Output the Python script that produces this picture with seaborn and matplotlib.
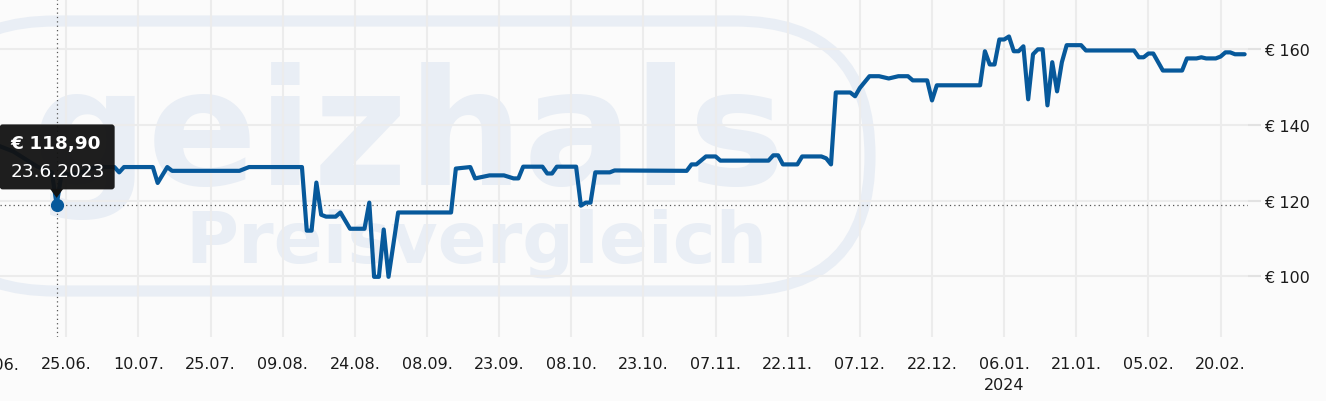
import matplotlib
matplotlib.use("Agg")
import matplotlib.pyplot as plt
import matplotlib.dates as mdates
import matplotlib.transforms as mtransforms
from matplotlib.patches import FancyBboxPatch, Polygon
import seaborn as sns
import pandas as pd

# Preisverlauf
datum = [
    "10.06.2023", "14.06.2023", "19.06.2023", "21.06.2023", "22.06.2023", "23.06.2023", "24.06.2023", "27.06.2023", "01.07.2023",
    "05.07.2023", "06.07.2023", "07.07.2023", "13.07.2023", "14.07.2023", "16.07.2023", "17.07.2023", "31.07.2023", "02.08.2023",
    "13.08.2023", "14.08.2023", "15.08.2023", "16.08.2023", "17.08.2023", "18.08.2023", "20.08.2023", "21.08.2023", "23.08.2023",
    "26.08.2023", "27.08.2023", "28.08.2023", "29.08.2023", "30.08.2023", "31.08.2023", "02.09.2023", "13.09.2023", "14.09.2023",
    "17.09.2023", "18.09.2023", "21.09.2023", "24.09.2023", "26.09.2023", "27.09.2023", "28.09.2023", "02.10.2023", "03.10.2023",
    "04.10.2023", "05.10.2023", "09.10.2023", "10.10.2023", "11.10.2023", "12.10.2023", "13.10.2023", "16.10.2023", "17.10.2023",
    "01.11.2023", "02.11.2023", "03.11.2023", "05.11.2023", "07.11.2023", "08.11.2023", "18.11.2023", "19.11.2023", "20.11.2023",
    "21.11.2023", "24.11.2023", "25.11.2023", "29.11.2023", "30.11.2023", "01.12.2023", "02.12.2023", "05.12.2023", "06.12.2023",
    "07.12.2023", "09.12.2023", "11.12.2023", "13.12.2023", "15.12.2023", "17.12.2023", "18.12.2023", "21.12.2023", "22.12.2023",
    "23.12.2023", "01.01.2024", "02.01.2024", "03.01.2024", "04.01.2024", "05.01.2024", "06.01.2024", "07.01.2024", "08.01.2024",
    "09.01.2024", "10.01.2024", "11.01.2024", "12.01.2024", "13.01.2024", "14.01.2024", "15.01.2024", "16.01.2024", "17.01.2024",
    "18.01.2024", "19.01.2024", "22.01.2024", "23.01.2024", "02.02.2024", "03.02.2024", "04.02.2024", "05.02.2024", "06.02.2024",
    "08.02.2024", "12.02.2024", "13.02.2024", "15.02.2024", "16.02.2024", "17.02.2024", "19.02.2024", "20.02.2024", "21.02.2024",
    "22.02.2024", "23.02.2024", "25.02.2024",
]
preis = [
    135.0, 133.0, 129.0, 128.0, 127.5, 118.9, 127.0, 127.0, 128.9,
    128.9, 127.5, 128.9, 128.9, 124.7, 128.9, 127.9, 127.9, 128.9,
    128.9, 112.1, 112.1, 124.8, 116.3, 115.8, 115.8, 116.9, 112.6,
    112.6, 119.5, 99.9, 99.9, 112.4, 99.9, 116.9, 116.9, 128.5,
    128.9, 125.9, 126.7, 126.7, 125.9, 125.9, 129.0, 129.0, 127.2,
    127.2, 129.0, 129.0, 118.7, 119.5, 119.5, 127.5, 127.5, 128.0,
    127.9, 129.6, 129.6, 131.7, 131.7, 130.6, 130.6, 132.0, 132.0,
    129.6, 129.6, 131.7, 131.7, 131.2, 129.6, 148.6, 148.6, 147.6,
    149.8, 152.9, 152.9, 152.3, 152.9, 152.9, 151.8, 151.8, 146.5,
    150.5, 150.5, 159.5, 156.0, 156.0, 162.6, 162.6, 163.4, 159.5,
    159.5, 160.8, 146.8, 158.7, 160.0, 160.0, 145.2, 156.6, 148.9,
    156.6, 161.1, 161.1, 159.7, 159.7, 157.9, 157.9, 158.9, 158.9,
    154.4, 154.4, 157.6, 157.6, 157.9, 157.6, 157.6, 158.1, 159.2,
    159.2, 158.7, 158.7,
]

tick_daten = ["25.06.2023", "10.07.2023", "25.07.2023", "09.08.2023", "24.08.2023", "08.09.2023",
              "23.09.2023", "08.10.2023", "23.10.2023", "07.11.2023", "22.11.2023", "07.12.2023",
              "22.12.2023", "06.01.2024", "21.01.2024", "05.02.2024", "20.02.2024"]
rand_tick = "10.06.2023"
y_ticks = [100, 120, 140, 160]

tip_datum = "23.06.2023"
tip_preis = 118.90

LINIE = "#07599b"
GRID = "#ececec"
TICK = "#e2e2e2"
WASSER = "#e9eef5"
BG = "#fbfbfb"
TEXT = "#1a1a1a"

W, H = 1326, 402

df = pd.DataFrame({"datum": pd.to_datetime(datum, format="%d.%m.%Y"), "preis": preis})

sns.set_style("white")
plt.rcParams["font.family"] = ["DejaVu Sans"]

fig = plt.figure(figsize=(W / 100, H / 100), dpi=100, facecolor=BG)
ax = fig.add_axes([0, (H - 338) / H, 1248 / W, 338 / H])
ax.set_facecolor("none")

# Wasserzeichen
def fx(x):
    return x / W

def fy(y):
    return 1 - y / H

fig.text(fx(32), fy(185), "geizhals", fontsize=117, weight="bold", color=WASSER,
         ha="left", va="baseline", zorder=-2)
fig.text(fx(185), fy(262), "Preisvergleich", fontsize=52, weight="bold", color=WASSER,
         ha="left", va="baseline", zorder=-2)
ring = FancyBboxPatch((-80, H - 292), 950, 270, boxstyle="round,pad=0,rounding_size=135",
                      fill=False, edgecolor=WASSER, linewidth=8, transform=mtransforms.IdentityTransform(),
                      zorder=-2)
fig.add_artist(ring)

sns.lineplot(data=df, x="datum", y="preis", ax=ax, color=LINIE, linewidth=3.0,
             solid_joinstyle="round", zorder=4)

start = pd.Timestamp("2023-06-25")
ax.set_xlim(start - pd.Timedelta(days=13.78), start + pd.Timedelta(days=245.7))
ax.set_ylim(84.0, 173.3)

ticks = pd.to_datetime(tick_daten, format="%d.%m.%Y")
labels = []
for t in ticks:
    lab = t.strftime("%d.%m.")
    if t.month == 1 and t.day <= 15 and t.year == 2024:
        lab += "\n2024"
    labels.append(lab)
ax.set_xticks(ticks)
ax.set_xticklabels(labels, linespacing=1.45)
ax.set_yticks(y_ticks)
ax.set_yticklabels([f"€ {v}" for v in y_ticks])
ax.yaxis.tick_right()

ax.grid(True, color=GRID, linewidth=1.5)
ax.set_axisbelow(True)
ax.tick_params(axis="x", length=9, width=1.5, color=TICK, pad=5, labelsize=11.5, labelcolor=TEXT)
ax.tick_params(axis="y", length=9, width=1.5, color=TICK, pad=2.5, labelsize=11.5, labelcolor=TEXT)
for s in ax.spines.values():
    s.set_visible(False)
ax.set_xlabel("")
ax.set_ylabel("")

# angeschnittenes Label links
rt = pd.to_datetime(rand_tick, format="%d.%m.%Y")
ax.annotate(rt.strftime("%d.%m."), xy=(rt, 0), xycoords=("data", "axes fraction"),
            xytext=(0, -20), textcoords="offset pixels", ha="center", va="top",
            fontsize=11.5, color=TEXT, annotation_clip=False)

# Hover-Markierung
td = pd.to_datetime(tip_datum, format="%d.%m.%Y")
ax.axvline(td, color="#555555", linewidth=0.9, linestyle=(0, (1, 2.5)), zorder=3)
ax.axhline(tip_preis, color="#555555", linewidth=0.9, linestyle=(0, (1, 2.5)), zorder=3)
ax.plot([td], [tip_preis], "o", color=LINIE, markersize=8.5, zorder=6)

px, py = ax.transData.transform((mdates.date2num(td), tip_preis))
ident = mtransforms.IdentityTransform()
box = FancyBboxPatch((px - 57, py + 15.5), 115, 65, boxstyle="round,pad=0,rounding_size=3",
                     facecolor="#121212", edgecolor="none", alpha=0.95, transform=ident,
                     clip_on=False, zorder=10)
ax.add_artist(box)
tri = Polygon([(px - 6.5, py + 16), (px + 6.5, py + 16), (px, py + 7)], closed=True,
              facecolor="#121212", edgecolor="none", transform=ident, clip_on=False, zorder=10)
ax.add_artist(tri)
preis_txt = f"€ {tip_preis:.2f}".replace(".", ",")
datum_txt = f"{td.day}.{td.month}.{td.year}"
ax.annotate(preis_txt, xy=(td, tip_preis), xytext=(-46, 61.5), textcoords="offset pixels",
            ha="left", va="center", color="white", fontsize=13.3, weight="bold",
            annotation_clip=False, zorder=11)
ax.annotate(datum_txt, xy=(td, tip_preis), xytext=(-46, 33.5), textcoords="offset pixels",
            ha="left", va="center", color="white", fontsize=13.3,
            annotation_clip=False, zorder=11)

fig.savefig("out.png", dpi=100, facecolor=BG)
